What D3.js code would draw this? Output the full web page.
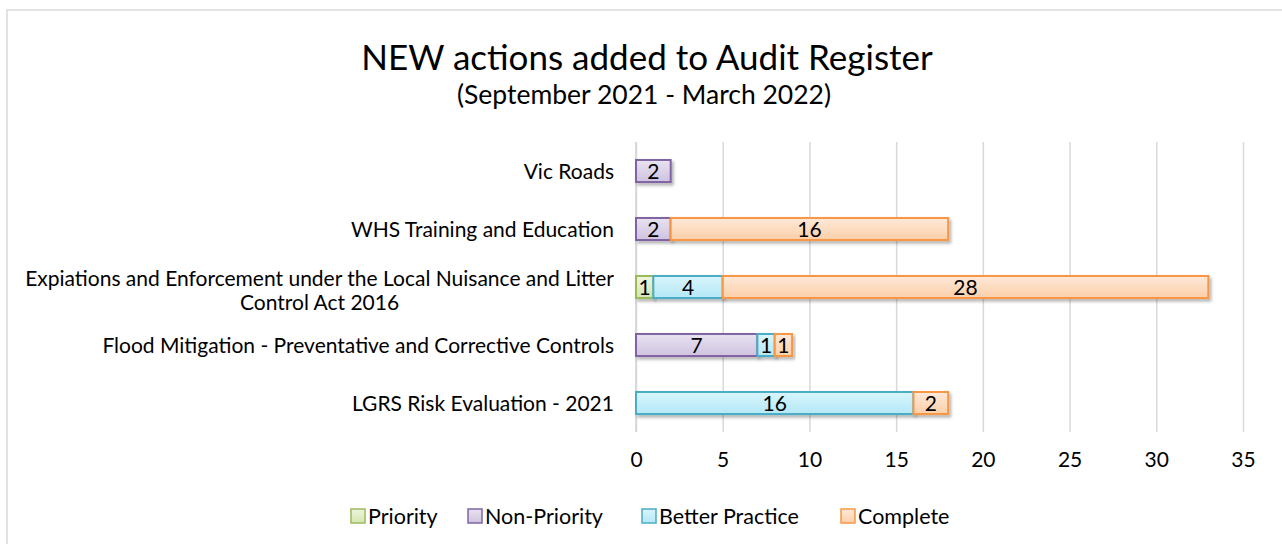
<!DOCTYPE html>
<html><head><meta charset="utf-8">
<script src="https://cdn.jsdelivr.net/npm/d3@7"></script>
<style>
html,body{margin:0;padding:0;background:#fff;}
svg text{font-family:Lato,"Open Sans",sans-serif;fill:#000;}
</style></head>
<body><svg id="c" width="1282" height="544"></svg>
<script>
const categories = ["Vic Roads","WHS Training and Education","Expiations and Enforcement under the Local Nuisance and Litter Control Act 2016","Flood Mitigation - Preventative and Corrective Controls","LGRS Risk Evaluation - 2021"];
const seriesNames = ["Priority","Non-Priority","Better Practice","Complete"];
const priority = [0,0,1,0,0];
const nonPriority = [2,2,0,7,0];
const betterPractice = [0,0,4,1,16];
const complete = [0,16,28,1,2];
const xTicks = [0,5,10,15,20,25,30,35];
const titleText = "NEW actions added to Audit Register";
const subtitleText = "(September 2021 - March 2022)";

const seriesValues = [priority, nonPriority, betterPractice, complete];
const strokes = ["#9bbb59","#8064a2","#4bacc6","#f79646"];
const fillTop = ["#eef5e0","#e8e2f0","#d8f5fd","#fee9d9"];
const fillBot = ["#d3e6b0","#cfc3e0","#b4e8f6","#fbcfa8"];

const svg = d3.select("#c");
const defs = svg.append("defs");
seriesNames.forEach((s,i)=>{
  const g = defs.append("linearGradient").attr("id","g"+i).attr("x1",0).attr("y1",0).attr("x2",0).attr("y2",1);
  g.append("stop").attr("offset","0%").attr("stop-color",fillTop[i]);
  g.append("stop").attr("offset","100%").attr("stop-color",fillBot[i]);
});
const f = defs.append("filter").attr("id","sh").attr("x","-10%").attr("y","-30%").attr("width","130%").attr("height","180%");
f.append("feDropShadow").attr("dx",2).attr("dy",2.5).attr("stdDeviation",1.6).attr("flood-color","#000").attr("flood-opacity",0.3);

// chart border
svg.append("rect").attr("x",7).attr("y",10).attr("width",1290).attr("height",560)
  .attr("fill","none").attr("stroke","#d9d9d9").attr("stroke-width",1.5);

// title
svg.append("text").attr("x",647).attr("y",57).attr("dy","0.36em").attr("text-anchor","middle").style("font-size","35px").text(titleText);
svg.append("text").attr("x",644).attr("y",94).attr("dy","0.36em").attr("text-anchor","middle").style("font-size","26.5px").text(subtitleText);

const x = d3.scaleLinear().domain([0,35]).range([636,1243]);
const y = d3.scaleBand().domain(categories).range([142,432]).paddingInner(0.62).paddingOuter(0.31);

// gridlines
const grid = svg.append("g").attr("transform","translate(0,432)")
  .call(d3.axisBottom(x).tickValues(xTicks).tickSize(-290).tickFormat(""));
grid.select(".domain").remove();
grid.selectAll(".tick line").attr("stroke","#d9d9d9").attr("stroke-width",1.5);

// x tick labels
const xa = svg.append("g").attr("transform","translate(0,432)")
  .call(d3.axisBottom(x).tickValues(xTicks).tickSize(0).tickPadding(20));
xa.select(".domain").remove();
xa.selectAll("text").style("font-size","21px").style("font-family","Lato,'Open Sans',sans-serif").attr("fill","#000");

// y axis line
svg.append("line").attr("x1",x(0)).attr("x2",x(0)).attr("y1",142).attr("y2",432).attr("stroke","#d9d9d9").attr("stroke-width",2);

// stacked bars
const rows = categories.map((c,i)=>{
  const o = {cat:c};
  seriesNames.forEach((s,j)=>o[s]=seriesValues[j][i]);
  return o;
});
const stacked = d3.stack().keys(seriesNames)(rows);
stacked.forEach((layer,j)=>{
  const g = svg.append("g");
  const segs = layer.filter(d=>d[1]-d[0]>0);
  g.selectAll("rect").data(segs).join("rect")
    .attr("x",d=>x(d[0])).attr("width",d=>x(d[1])-x(d[0]))
    .attr("y",d=>y(d.data.cat)).attr("height",y.bandwidth())
    .attr("fill","url(#g"+j+")").attr("stroke",strokes[j]).attr("stroke-width",2)
    .attr("filter","url(#sh)");
  g.selectAll("text").data(segs).join("text")
    .attr("x",d=>(x(d[0])+x(d[1]))/2).attr("y",d=>y(d.data.cat)+y.bandwidth()/2)
    .attr("dy","0.36em").attr("text-anchor","middle").style("font-size","21px")
    .text(d=>d[1]-d[0]);
});

// category labels with wrapping (right aligned block, centered lines)
const labelRight = 614, maxW = 600, lfs = 21;
const meas = svg.append("text").style("font-size",lfs+"px").attr("visibility","hidden");
function tw(s){meas.text(s);return meas.node().getComputedTextLength();}
categories.forEach(c=>{
  const words = c.split(" ");
  const lines = [];let cur = "";
  words.forEach(w=>{const t = cur?cur+" "+w:w; if(tw(t)>maxW && cur){lines.push(cur);cur=w;} else cur=t;});
  lines.push(cur);
  const bw = d3.max(lines,tw);
  const cx = labelRight - bw/2;
  const cy = y(c)+y.bandwidth()/2 + (lines.length>1?3:0);
  const lh = 24;
  lines.forEach((l,k)=>{
    svg.append("text").attr("x",lines.length>1?cx:labelRight)
      .attr("text-anchor",lines.length>1?"middle":"end")
      .attr("y",cy + (k-(lines.length-1)/2)*lh).attr("dy","0.36em")
      .style("font-size",lfs+"px").text(l);
  });
});
meas.remove();

// legend
const legX = [351,468,642,841];
const lg = svg.append("g");
seriesNames.forEach((s,i)=>{
  lg.append("rect").attr("x",legX[i]).attr("y",509).attr("width",14).attr("height",14)
    .attr("fill","url(#g"+i+")").attr("stroke",strokes[i]).attr("stroke-width",1.5);
  lg.append("text").attr("x",legX[i]+17).attr("y",516).attr("dy","0.36em").style("font-size","21.5px").text(s);
});
</script></body></html>
